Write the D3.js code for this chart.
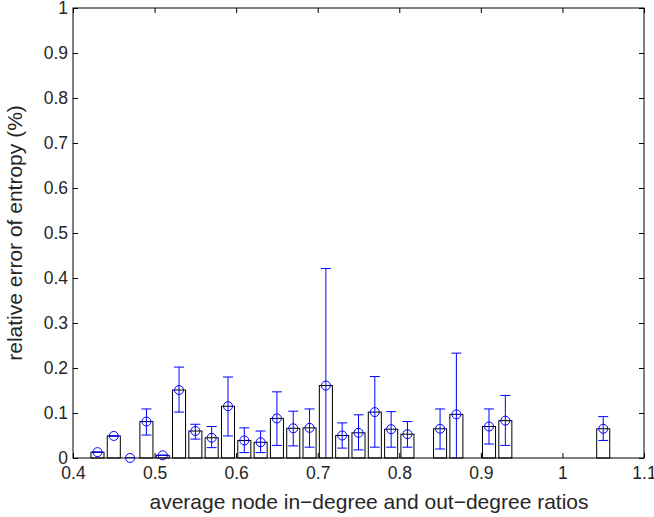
<!DOCTYPE html>
<html>
<head>
<meta charset="utf-8">
<script src="https://cdn.jsdelivr.net/npm/d3@7"></script>
<style>
  body { margin: 0; background: #fff; }
  svg text { font-family: "Liberation Sans", Arial, sans-serif; fill: #262626; }
</style>
</head>
<body>
<svg id="chart" width="654" height="517"></svg>
<script>
// ratio bins (bar centres)
const ratios = [0.43, 0.45, 0.47, 0.49, 0.51, 0.53, 0.55, 0.57, 0.59, 0.61, 0.63, 0.65, 0.67,
                0.69, 0.71, 0.73, 0.75, 0.77, 0.79, 0.81, 0.85, 0.87, 0.91, 0.93, 1.05];
// mean relative error for each bin
const meanErr = [0.013, 0.049, 0.000, 0.081, 0.006, 0.151, 0.060, 0.045, 0.115, 0.039, 0.035, 0.088, 0.066,
                 0.067, 0.161, 0.050, 0.056, 0.102, 0.064, 0.053, 0.065, 0.097, 0.070, 0.083, 0.065];
// errorbar upper and lower ends
const upperErr = [0.013, 0.049, 0.000, 0.109, 0.006, 0.202, 0.075, 0.070, 0.180, 0.067, 0.060, 0.147, 0.104,
                  0.109, 0.421, 0.078, 0.096, 0.181, 0.103, 0.081, 0.109, 0.233, 0.109, 0.139, 0.092];
const lowerErr = [0.013, 0.049, 0.000, 0.051, 0.006, 0.102, 0.042, 0.023, 0.049, 0.012, 0.012, 0.028, 0.027,
                  0.024, -0.100, 0.022, 0.018, 0.024, 0.024, 0.024, 0.020, -0.040, 0.031, 0.028, 0.039];
const xTicks = [0.4, 0.5, 0.6, 0.7, 0.8, 0.9, 1, 1.1];
const yTicks = [0, 0.1, 0.2, 0.3, 0.4, 0.5, 0.6, 0.7, 0.8, 0.9, 1];

const margin = {left: 73, right: 10, top: 8, bottom: 59};
const width = 654 - margin.left - margin.right;
const height = 517 - margin.top - margin.bottom;
const barWidth = 0.016;

const svg = d3.select("#chart");
const g = svg.append("g").attr("transform", `translate(${margin.left},${margin.top})`);

const x = d3.scaleLinear().domain([0.4, 1.1]).range([0, width]);
const y = d3.scaleLinear().domain([0, 1]).range([height, 0]);

g.append("clipPath").attr("id", "plotclip")
  .append("rect").attr("width", width).attr("height", height);

const data = ratios.map((r, i) => ({r, m: meanErr[i], hi: upperErr[i], lo: lowerErr[i]}));

// bars
g.append("g").selectAll("rect")
  .data(data.filter(d => d.m > 0))
  .enter().append("rect")
    .attr("x", d => x(d.r - barWidth / 2))
    .attr("y", d => y(d.m))
    .attr("width", d => x(d.r + barWidth / 2) - x(d.r - barWidth / 2))
    .attr("height", d => y(0) - y(d.m))
    .attr("fill", "none")
    .attr("stroke", "#000")
    .attr("stroke-width", 1);

// error bars
const eb = g.append("g").attr("clip-path", "url(#plotclip)");
eb.selectAll("line.v")
  .data(data)
  .enter().append("line")
    .attr("class", "v")
    .attr("x1", d => x(d.r)).attr("x2", d => x(d.r))
    .attr("y1", d => y(d.lo)).attr("y2", d => y(d.hi))
    .attr("stroke", "#0000ff");
eb.selectAll("line.cap")
  .data(data.flatMap(d => [{r: d.r, v: d.hi}, {r: d.r, v: d.lo}]))
  .enter().append("line")
    .attr("class", "cap")
    .attr("x1", d => x(d.r) - 5).attr("x2", d => x(d.r) + 5)
    .attr("y1", d => y(d.v)).attr("y2", d => y(d.v))
    .attr("stroke", "#0000ff");

// markers
g.append("g").selectAll("circle")
  .data(data)
  .enter().append("circle")
    .attr("cx", d => x(d.r))
    .attr("cy", d => y(d.m))
    .attr("r", 4.5)
    .attr("fill", "none")
    .attr("stroke", "#0000ff");

// axes, ticks pointing inwards on all four sides
const styleAxis = sel => {
  sel.select(".domain").remove();
  sel.selectAll(".tick line").attr("stroke", "#000");
  sel.selectAll("text").style("font-size", "17.5px").attr("fill", "#262626");
};
g.append("g").attr("transform", `translate(0,${height})`)
  .call(d3.axisBottom(x).tickValues(xTicks).tickSize(-5).tickPadding(9).tickFormat(d3.format("")))
  .call(styleAxis);
g.append("g")
  .call(d3.axisLeft(y).tickValues(yTicks).tickSize(-5).tickPadding(5).tickFormat(d3.format("")))
  .call(styleAxis);
g.append("g")
  .call(d3.axisTop(x).tickValues(xTicks).tickSize(-5).tickFormat(""))
  .call(styleAxis);
g.append("g").attr("transform", `translate(${width},0)`)
  .call(d3.axisRight(y).tickValues(yTicks).tickSize(-5).tickFormat(""))
  .call(styleAxis);

// box
g.append("rect")
  .attr("width", width).attr("height", height)
  .attr("fill", "none").attr("stroke", "#000").attr("stroke-width", 1);

// labels
svg.append("text")
  .attr("x", 369)
  .attr("y", 509)
  .attr("text-anchor", "middle")
  .style("font-size", "21px")
  .text("average node in\u2212degree and out\u2212degree ratios");

svg.append("text")
  .attr("transform", `translate(22,${margin.top + height / 2}) rotate(-90)`)
  .attr("text-anchor", "middle")
  .style("font-size", "21px")
  .text("relative error of entropy (%)");
</script>
</body>
</html>
